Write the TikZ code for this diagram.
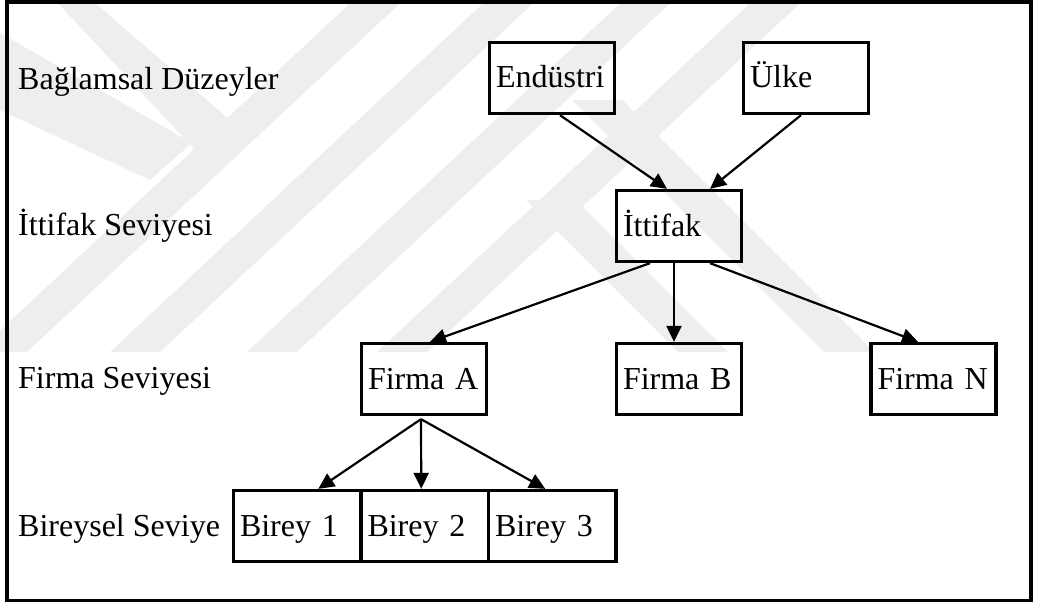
\documentclass[tikz,border=0pt]{standalone}
\usepackage{fontspec}
\setmainfont{Liberation Serif}
\usetikzlibrary{arrows.meta}
\definecolor{wmgray}{gray}{0.935}
\begin{document}
\begin{tikzpicture}[x=1pt,y=-1pt,
  txt/.style={font=\fontsize{32}{36}\selectfont},
  box/.style={txt, draw, line width=3.3pt, minimum width=125pt, minimum height=71pt,
    text width=112pt, inner xsep=6.5pt, inner ysep=0pt, align=left,
    text height=20pt, text depth=0pt},
  cell/.style={box, minimum width=127.5pt, text width=114.5pt},
  lvl/.style={txt, anchor=base west, inner sep=0pt},
  link/.style={line width=2.2pt, -{Triangle[length=16pt,width=15pt]}},
  wm/.style={fill=wmgray}]
\useasboundingbox (0,0) rectangle (1039,602);

% faint background emblem
\begin{scope}
  \clip (0,0) rectangle (1039,352);
  \foreach \L in {-23,110,247,377}
    \fill[wm] (\L,352) -- (\L+50,352) -- (\L+426.6,0) -- (\L+376.6,0) -- cycle;
  \fill[wm] (55,0) -- (92,0) -- (230,120) -- (195,150) -- cycle;
  \fill[wm] (0,33) -- (192,143) -- (150,180) -- (0,110) -- cycle;
  \fill[wm] (526,200) -- (576,200) -- (728,352) -- (678,352) -- cycle;
  \fill[wm] (572,100) -- (622,100) -- (874,352) -- (824,352) -- cycle;
\end{scope}

% outer frame
\draw[line width=3.2pt] (7,2) rectangle (1031,600.5);

% level labels
\node[lvl] (l1) at (18,89)  {Bağlamsal Düzeyler};
\node[lvl] (l2) at (18,235) {İttifak Seviyesi};
\node[lvl] (l3) at (18,388) {Firma Seviyesi};
\node[lvl] (l4) at (18,536) {Bireysel Seviye};

% boxes
\node[box] (endu) at (552,78)    {Endüstri};
\node[box] (ulke) at (806,78)    {Ülke};
\node[box] (itt)  at (679,226)   {İttifak};
\node[box] (fa)   at (424,379)   {Firma A};
\node[box] (fb)   at (679,379)   {Firma B};
\node[box] (fn)   at (933.5,379) {Firma N};
\node[cell] (b1)  at (297.25,526) {Birey 1};
\node[cell] (b2)  at (424.75,526) {Birey 2};
\node[cell] (b3)  at (552.25,526) {Birey 3};

% connectors
\draw[link] ([xshift=8pt]endu.south) -- ([xshift=-12pt]itt.north);
\draw[link] ([xshift=-5pt]ulke.south) -- ([xshift=31pt]itt.north);
\draw[link] ([xshift=-29pt]itt.south) -- ([xshift=6pt]fa.north);
\draw[link] ([xshift=-5pt]itt.south) -- ([xshift=-5pt]fb.north);
\draw[link] ([xshift=31pt]itt.south) -- ([xshift=-15.5pt]fn.north);
\coordinate (fork) at ([xshift=-3pt,yshift=-3pt]fa.south);
\draw[link] (fork) -- ([xshift=21pt]b1.north);
\draw[link] (fork) -- ([xshift=-3.5pt]b2.north);
\draw[link] (fork) -- ([xshift=-7pt]b3.north);
\end{tikzpicture}
\end{document}
